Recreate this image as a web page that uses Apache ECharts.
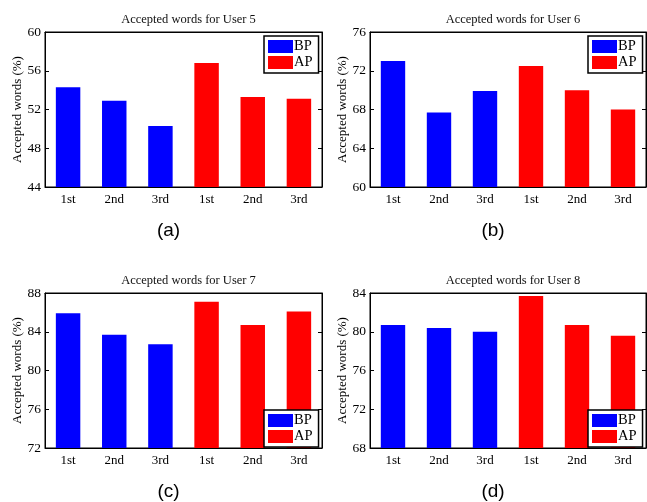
<!DOCTYPE html>
<html>
<head>
<meta charset="utf-8">
<script src="https://cdn.jsdelivr.net/npm/echarts@6/dist/echarts.min.js"></script>
<style>html,body{margin:0;padding:0;background:#fff;}#c{width:647px;height:502px;}</style>
</head>
<body>
<div id="c"></div>
<script>
const categories = ['1st', '2nd', '3rd', '1st', '2nd', '3rd'];
const users = ['5', '6', '7', '8'];
const panelLabels = ['(a)', '(b)', '(c)', '(d)'];
const bp5 = [54.3, 52.9, 50.3];
const ap5 = [56.8, 53.3, 53.1];
const bp6 = [73.0, 67.7, 69.9];
const ap6 = [72.5, 70.0, 68.0];
const bp7 = [85.9, 83.7, 82.7];
const ap7 = [87.1, 84.7, 86.1];
const bp8 = [80.7, 80.4, 80.0];
const ap8 = [83.7, 80.7, 79.6];
const yMins = [44, 60, 72, 68];
const yMaxs = [60, 76, 88, 84];
const yInterval = 4;

const bpAll = [bp5, bp6, bp7, bp8];
const apAll = [ap5, ap6, ap7, ap8];

const grids = [
  {left: 45, top: 32, width: 277, height: 155},
  {left: 370, top: 32, width: 276, height: 155},
  {left: 45, top: 293, width: 277, height: 155},
  {left: 370, top: 293, width: 276, height: 155}
];
const legendPos = [
  {left: 264, top: 36},
  {left: 588, top: 36},
  {left: 264, top: 410},
  {left: 588, top: 410}
];
const serif = 'Liberation Serif';
const black = '#000';

const option = {
  animation: false,
  backgroundColor: '#fff',
  title: [],
  grid: [],
  xAxis: [],
  yAxis: [],
  legend: [],
  series: []
};

for (let i = 0; i < 4; i++) {
  const g = grids[i];
  option.grid.push(Object.assign({show: true, borderColor: black, borderWidth: 1, backgroundColor: '#fff', containLabel: false}, g));
  option.title.push({
    text: 'Accepted words for User ' + users[i],
    left: g.left + g.width / 2, top: g.top - 24, textAlign: 'center',
    textStyle: {fontFamily: serif, fontSize: 12.5, fontWeight: 'normal', color: '#111'}
  });
  option.title.push({
    text: panelLabels[i],
    left: g.left + g.width / 2 - 20, top: g.top + g.height + 29, textAlign: 'center',
    textStyle: {fontFamily: 'Liberation Sans', fontSize: 19, fontWeight: 'normal', color: black}
  });
  option.xAxis.push({
    type: 'category', gridIndex: i, data: categories, position: 'bottom',
    axisLine: {lineStyle: {color: black, width: 1}},
    axisTick: {inside: true, alignWithLabel: true, length: 4, lineStyle: {color: black}},
    axisLabel: {fontFamily: serif, fontSize: 13, color: black, margin: 6},
    splitLine: {show: false}
  });
  option.xAxis.push({
    type: 'category', gridIndex: i, data: categories, position: 'top',
    axisLine: {lineStyle: {color: black, width: 1}},
    axisTick: {inside: true, alignWithLabel: true, length: 4, lineStyle: {color: black}},
    axisLabel: {show: false}, splitLine: {show: false}
  });
  option.yAxis.push({
    type: 'value', gridIndex: i, min: yMins[i], max: yMaxs[i], interval: yInterval, position: 'left',
    name: 'Accepted words (%)', nameLocation: 'middle', nameGap: 21,
    nameTextStyle: {fontFamily: serif, fontSize: 13, color: black},
    axisLine: {show: true, lineStyle: {color: black, width: 1}},
    axisTick: {show: true, inside: true, length: 4, lineStyle: {color: black}},
    axisLabel: {fontFamily: serif, fontSize: 13.5, color: black, margin: 4},
    splitLine: {show: false}
  });
  option.yAxis.push({
    type: 'value', gridIndex: i, min: yMins[i], max: yMaxs[i], interval: yInterval, position: 'right',
    axisLine: {show: true, lineStyle: {color: black, width: 1}},
    axisTick: {show: true, inside: true, length: 4, lineStyle: {color: black}},
    axisLabel: {show: false}, splitLine: {show: false}
  });
  option.series.push({
    name: 'BP', type: 'bar', xAxisIndex: 2 * i, yAxisIndex: 2 * i,
    data: bpAll[i].concat(['-', '-', '-']),
    barWidth: '53%', barGap: '-100%',
    itemStyle: {color: '#0000ff'}
  });
  option.series.push({
    name: 'AP', type: 'bar', xAxisIndex: 2 * i, yAxisIndex: 2 * i,
    data: ['-', '-', '-'].concat(apAll[i]),
    barWidth: '53%', barGap: '-100%',
    itemStyle: {color: '#ff0000'}
  });
  option.legend.push({
    data: ['BP', 'AP'], orient: 'vertical',
    left: legendPos[i].left, top: legendPos[i].top,
    icon: 'rect', itemWidth: 25, itemHeight: 13, itemGap: 1,
    padding: [3, 6, 3, 4],
    backgroundColor: '#fff', borderColor: black, borderWidth: 1.5,
    selectedMode: false, z: 10,
    textStyle: {fontFamily: serif, fontSize: 14.5, color: black, padding: [0, 0, 0, -4]}
  });
}

const chart = echarts.init(document.getElementById('c'), null, {renderer: 'canvas'});
chart.setOption(option);
</script>
</body>
</html>
